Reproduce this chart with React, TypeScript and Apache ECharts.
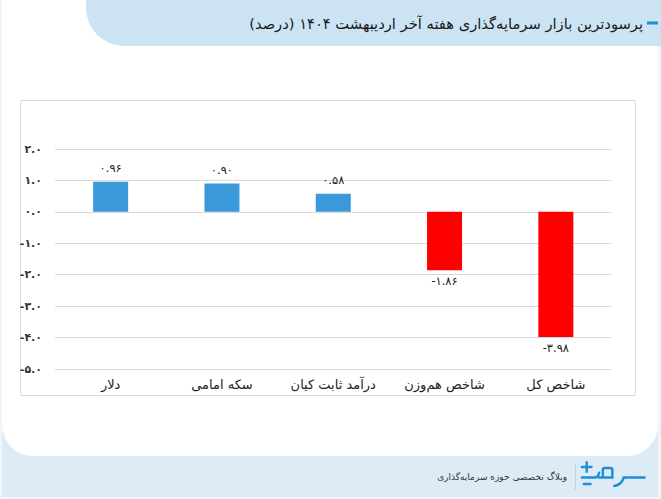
import React, { useEffect, useRef } from "react";
import * as echarts from "echarts";

// Weekly returns of investment markets (percent)
const categories = ["دلار", "سکه امامی", "درآمد ثابت کیان", "شاخص هم‌وزن", "شاخص کل"];
const returns = [0.96, 0.9, 0.58, -1.86, -3.98];

const yMin = -5;
const yMax = 2;
const yStep = 1;

const titleText = "پرسودترین بازار سرمایه‌گذاری هفته آخر اردیبهشت ۱۴۰۴ (درصد)\u200F";
const footerText = "وبلاگ تخصصی حوزه سرمایه‌گذاری";

const FONT = "DejaVu Sans";
const BLUE = "#3a99d8";
const RED = "#ff0000";
const BRAND = "#1d8fd8";

const persianDigits = (s: string) =>
  s.replace(/[0-9]/g, (d) => "۰۱۲۳۴۵۶۷۸۹"[Number(d)]);

// Stylised brand mark drawn as a stroked path
const LOGO_D =
  "M 1 12 L 15 12 Q 18 12 19 7 " +
  "M 19 12 L 33 12 L 33 4 Q 33 2 31 2 L 25 2 Q 23 2 23 4 L 23 12 " +
  "M 45 12 Q 43 20 35 21 " +
  "M 45 12 L 67 12 " +
  "M 6 -4 L 6 6 M 1 1 L 11 1 " +
  "M 3 19 L 10 19";
echarts.graphic.registerShape("logo", echarts.graphic.extendPath(LOGO_D, {}));

export default function App() {
  const ref = useRef<HTMLDivElement>(null);

  useEffect(() => {
    if (!ref.current) return;
    const chart = echarts.init(ref.current, undefined, { renderer: "svg" });

    chart.setOption({
      animation: false,
      backgroundColor: "#f3f4f6",
      textStyle: { fontFamily: FONT },
      grid: { left: 55, right: 49.5, top: 149, bottom: 130, containLabel: false },
      xAxis: {
        type: "category",
        data: categories,
        axisLine: { show: false, onZero: false },
        axisTick: { show: false },
        axisLabel: {
          color: "#1e1e1e",
          fontSize: 13,
          fontFamily: FONT,
          margin: 9,
        },
      },
      yAxis: {
        type: "value",
        min: yMin,
        max: yMax,
        interval: yStep,
        axisLine: { show: false },
        axisTick: { show: false },
        splitLine: { lineStyle: { color: "#d9d9d9", width: 1 } },
        axisLabel: {
          color: "#333",
          fontSize: 11,
          fontWeight: "bold",
          fontFamily: FONT,
          margin: 13,
          formatter: (v: number) => persianDigits(v.toFixed(1)),
        },
      },
      series: [
        {
          type: "bar",
          data: returns.map((v) => ({
            value: v,
            itemStyle: { color: v >= 0 ? BLUE : RED },
            label: { position: v >= 0 ? "top" : "bottom", distance: v >= 0 ? 8 : 5 },
          })),
          barWidth: 35,
          z: 3,
          label: {
            show: true,
            color: "#222",
            fontSize: 11.5,
            fontFamily: FONT,
            formatter: (p: any) => persianDigits(Number(p.value).toFixed(2)),
          },
        },
      ],
      graphic: [
        // footer band
        {
          type: "rect",
          z: -10,
          shape: { x: 2, y: 420, width: 656, height: 77 },
          style: { fill: "#dcebf6" },
        },
        // white card
        {
          type: "rect",
          z: -9,
          shape: { x: 2, y: 0, width: 656, height: 456, r: [0, 0, 31, 31] },
          style: { fill: "#ffffff" },
        },
        // header band
        {
          type: "rect",
          z: -8,
          shape: { x: 86, y: 0, width: 575, height: 46, r: [0, 0, 0, 38] },
          style: { fill: "#cce3f4" },
        },
        // title marker
        {
          type: "rect",
          z: -7,
          shape: { x: 647, y: 21.5, width: 11, height: 3 },
          style: { fill: BRAND },
        },
        {
          type: "text",
          z: -7,
          x: 643,
          y: 23,
          style: {
            text: titleText,
            fontSize: 14.7,
            fontFamily: FONT,
            fill: "#1a1a1a",
            align: "right",
            verticalAlign: "middle",
          },
        },
        // chart frame
        {
          type: "rect",
          z: -7,
          shape: { x: 20.5, y: 100.5, width: 615, height: 295 },
          style: { fill: "#ffffff", stroke: "#dcdcdc", lineWidth: 1 },
        },
        // footer: separator, caption and brand mark
        {
          type: "line",
          z: -7,
          shape: { x1: 575.5, y1: 463, x2: 575.5, y2: 490 },
          style: { stroke: "#c3d3e0", lineWidth: 1 },
        },
        {
          type: "text",
          z: -7,
          x: 567,
          y: 477,
          style: {
            text: footerText,
            fontSize: 9,
            fontFamily: FONT,
            fill: "#333",
            align: "right",
            verticalAlign: "middle",
          },
        },
        {
          type: "logo",
          z: -7,
          x: 581,
          y: 466,
          scaleX: 0.95,
          scaleY: 0.95,
          style: { stroke: BRAND, fill: "none", lineWidth: 2.6, lineCap: "round" },
        },
      ],
    });

    return () => chart.dispose();
  }, []);

  return (
    <div
      ref={ref}
      style={{ position: "fixed", left: 0, top: 0, width: 661, height: 499 }}
    />
  );
}
